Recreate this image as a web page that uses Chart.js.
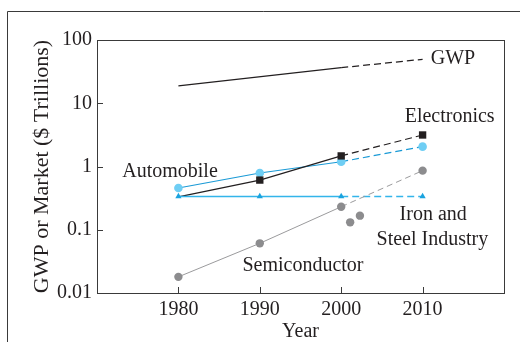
<!DOCTYPE html>
<html><head><meta charset="utf-8">
<script src="https://cdn.jsdelivr.net/npm/chart.js@4/dist/chart.umd.min.js"></script>
<style>html,body{margin:0;padding:0;background:#fff}#wrap{width:520px;height:342px}</style>
</head><body><div id="wrap"><canvas id="c" width="520" height="342"></canvas></div>
<script>
const years = [1980, 1990, 2000, 2010];
const gwpYears = [1980, 2000, 2010];
const gwp = [18.8, 36.5, 49.5];
const electronics = [0.33, 0.61, 1.47, 3.15];
const automobile = [0.457, 0.79, 1.19, 2.06];
const ironSteel = [0.336, 0.336, 0.336, 0.336];
const semiconductor = [0.018, 0.061, 0.231, 0.86];
const semiExtraYears = [2001.1, 2002.3];
const semiExtra = [0.131, 0.167];
const yTicks = [0.01, 0.1, 1, 10, 100];
const yTickLabels = ['0.01', '0.1', '1', '10', '100'];
const xTicks = [1980, 1990, 2000, 2010];
const labelTexts = ['GWP', 'Electronics', 'Automobile', 'Iron and', 'Steel Industry', 'Semiconductor'];
const labelYears = [2011.0, 2007.8, 1973.1, 2011.3, 2011.2, 1995.3];
const labelValues = [50.1, 6.06, 0.818, 0.171, 0.0689, 0.0267];
const labelAlign = ['left', 'left', 'left', 'center', 'center', 'center'];

const FONT = "'Liberation Serif', 'Times New Roman', serif";
const INK = '#231f20';
const pts = (xs, ys) => xs.map((x, i) => ({x: x, y: ys[i]}));
const dashAfter = (n, dash) => ctx => ctx.p0DataIndex >= n ? dash : undefined;

const decor = {
  id: 'decor',
  beforeDraw(chart) {
    const c = chart.ctx;
    c.save();
    c.fillStyle = '#fff';
    c.fillRect(0, 0, chart.width, chart.height);
    c.strokeStyle = '#3a3a3a';
    c.lineWidth = 1;
    c.beginPath();
    c.moveTo(7.5, chart.height);
    c.lineTo(7.5, 11.5);
    c.lineTo(chart.width, 11.5);
    c.stroke();
    c.restore();
  },
  afterDraw(chart) {
    const c = chart.ctx, a = chart.chartArea;
    const xs = chart.scales.x, ys = chart.scales.y;
    c.save();
    c.strokeStyle = '#3a3a3a';
    c.lineWidth = 1;
    c.strokeRect(Math.round(a.left) + 0.5, Math.round(a.top) + 0.5, Math.round(a.right - a.left), Math.round(a.bottom - a.top));
    c.beginPath();
    xTicks.forEach(v => {
      const px = Math.round(xs.getPixelForValue(v)) + 0.5;
      c.moveTo(px, a.bottom); c.lineTo(px, a.bottom - 6);
    });
    yTicks.forEach(v => {
      const py = Math.round(ys.getPixelForValue(v)) + 0.5;
      c.moveTo(a.left, py); c.lineTo(a.left + 6, py);
    });
    c.stroke();
    c.fillStyle = INK;
    c.font = '20px ' + FONT;
    c.textBaseline = 'middle';
    labelTexts.forEach((t, i) => {
      c.textAlign = labelAlign[i];
      c.fillText(t, xs.getPixelForValue(labelYears[i]), ys.getPixelForValue(labelValues[i]));
    });
    c.restore();
  }
};

new Chart(document.getElementById('c'), {
  type: 'line',
  data: {
    datasets: [
      {label: 'GWP', data: pts(gwpYears, gwp), borderColor: INK, borderWidth: 1.2, pointRadius: 0,
       segment: {borderDash: dashAfter(1, [7, 4])}},
      {label: 'Semiconductor', data: pts(years, semiconductor), borderColor: '#9b9b9d', borderWidth: 1,
       pointRadius: 4.2, pointBackgroundColor: '#8c8c8e', pointBorderColor: '#8c8c8e', pointBorderWidth: 0,
       segment: {borderDash: dashAfter(2, [6, 4])}},
      {label: 'Semiconductor extra', data: pts(semiExtraYears, semiExtra), showLine: false,
       pointRadius: 4.2, pointBackgroundColor: '#8c8c8e', pointBorderColor: '#8c8c8e', pointBorderWidth: 0},
      {label: 'Iron and Steel', data: pts(years, ironSteel), borderColor: '#33b5ea', borderWidth: 1.6,
       pointStyle: 'triangle', pointRadius: 3.6, pointBackgroundColor: '#1aa3df', pointBorderColor: '#1aa3df', pointBorderWidth: 0,
       segment: {borderDash: dashAfter(2, [7, 4])}},
      {label: 'Electronics', data: pts(years, electronics), borderColor: INK, borderWidth: 1.2,
       pointStyle: 'rect', pointRadius: [0, 5.2, 5.2, 5.2], pointBackgroundColor: INK, pointBorderColor: INK, pointBorderWidth: 0,
       segment: {borderDash: dashAfter(2, [7, 4])}},
      {label: 'Automobile', data: pts(years, automobile), borderColor: '#1a9ad6', borderWidth: 1.2,
       pointRadius: 4.3, pointBackgroundColor: '#6fcef4', pointBorderColor: '#6fcef4', pointBorderWidth: 0,
       segment: {borderDash: dashAfter(2, [7, 4])}}
    ]
  },
  options: {
    responsive: false,
    animation: false,
    layout: {padding: {left: 25, top: 40, right: 16, bottom: 0}},
    plugins: {legend: {display: false}, tooltip: {enabled: false}},
    scales: {
      x: {
        type: 'linear', min: 1970, max: 2020,
        afterBuildTicks: s => { s.ticks = xTicks.map(v => ({value: v})); },
        afterFit: s => { s.height = 49; },
        grid: {display: false, drawTicks: false},
        border: {display: false},
        ticks: {color: INK, font: {family: FONT, size: 20}, padding: 5, maxRotation: 0,
                callback: v => String(v)},
        title: {display: true, text: 'Year', color: INK, font: {family: FONT, size: 20, lineHeight: 1}, padding: {top: 0, bottom: 0}}
      },
      y: {
        type: 'logarithmic', min: 0.01, max: 100,
        afterBuildTicks: s => { s.ticks = yTicks.map(v => ({value: v})); },
        afterFit: s => { s.width = 72; },
        grid: {display: false, drawTicks: false},
        border: {display: false},
        ticks: {color: INK, font: {family: FONT, size: 20}, padding: 5,
                callback: v => yTickLabels[yTicks.indexOf(v)] ?? ''},
        title: {display: true, text: 'GWP or Market ($ Trillions)', color: INK, font: {family: FONT, size: 22, lineHeight: 1.2}, padding: {top: 4, bottom: 4}}
      }
    }
  },
  plugins: [decor]
});
</script></body></html>
